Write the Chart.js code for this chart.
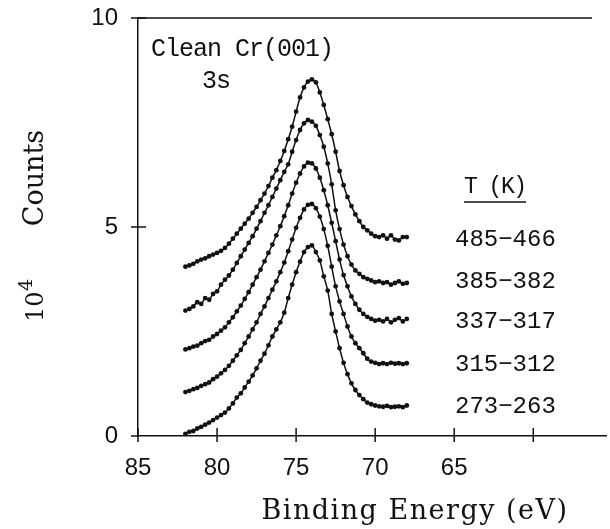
<!DOCTYPE html>
<html>
<head>
<meta charset="utf-8">
<script src="https://cdn.jsdelivr.net/npm/chart.js@4.4.1/dist/chart.umd.min.js"></script>
<style>
  html, body { margin: 0; padding: 0; background: #fff; }
  #wrap { width: 610px; height: 529px; }
</style>
</head>
<body>
<div id="wrap"><canvas id="xpsChart" width="610" height="529"></canvas></div>
<script>
// binding energy of each sampled point (eV)
const energies = [82, 81.75, 81.5, 81.25, 81, 80.75, 80.5, 80.25, 80, 79.75,
    79.5, 79.25, 79, 78.75, 78.5, 78.25, 78, 77.75, 77.5, 77.25,
    77, 76.75, 76.5, 76.25, 76, 75.75, 75.5, 75.25, 75, 74.75,
    74.5, 74.25, 74, 73.75, 73.5, 73.25, 73, 72.75, 72.5, 72.25,
    72, 71.75, 71.5, 71.25, 71, 70.75, 70.5, 70.25, 70, 69.75,
    69.5, 69.25, 69, 68.75, 68.5, 68.25, 68];

// counts (x 10^4), each spectrum already offset in the figure
const counts485 = [4.05, 4.08, 4.12, 4.18, 4.22, 4.25, 4.30, 4.34, 4.38, 4.43,
    4.50, 4.60, 4.72, 4.84, 4.96, 5.08, 5.20, 5.34, 5.48, 5.64,
    5.80, 5.98, 6.18, 6.36, 6.58, 6.82, 7.10, 7.40, 7.76, 8.10,
    8.34, 8.48, 8.53, 8.46, 8.22, 7.92, 7.58, 7.22, 6.80, 6.34,
    6.00, 5.72, 5.50, 5.30, 5.14, 5.00, 4.92, 4.84, 4.78, 4.76,
    4.80, 4.72, 4.80, 4.70, 4.68, 4.76, 4.76];
const counts385 = [3.00, 3.04, 3.10, 3.20, 3.16, 3.30, 3.26, 3.40, 3.46, 3.62,
    3.74, 3.84, 3.98, 4.14, 4.30, 4.46, 4.62, 4.78, 4.96, 5.14,
    5.34, 5.52, 5.72, 5.92, 6.12, 6.32, 6.50, 6.80, 7.08, 7.32,
    7.48, 7.56, 7.52, 7.42, 7.20, 6.92, 6.52, 6.02, 5.40, 4.95,
    4.58, 4.30, 4.10, 3.96, 3.88, 3.80, 3.76, 3.72, 3.68, 3.70,
    3.66, 3.68, 3.62, 3.66, 3.70, 3.64, 3.66];
const counts337 = [2.07, 2.10, 2.14, 2.16, 2.22, 2.27, 2.30, 2.38, 2.44, 2.52,
    2.60, 2.72, 2.84, 2.98, 3.12, 3.28, 3.44, 3.62, 3.80, 3.98,
    4.18, 4.38, 4.58, 4.80, 5.02, 5.26, 5.52, 5.80, 6.06, 6.28,
    6.45, 6.54, 6.52, 6.40, 6.18, 5.88, 5.52, 5.10, 4.66, 4.22,
    3.85, 3.58, 3.34, 3.16, 3.02, 2.92, 2.85, 2.80, 2.76, 2.78,
    2.74, 2.80, 2.72, 2.78, 2.82, 2.74, 2.80];
const counts315 = [1.05, 1.08, 1.12, 1.15, 1.20, 1.24, 1.28, 1.36, 1.42, 1.50,
    1.58, 1.68, 1.80, 1.93, 2.06, 2.22, 2.38, 2.55, 2.72, 2.92,
    3.10, 3.30, 3.50, 3.70, 3.92, 4.15, 4.42, 4.70, 4.98, 5.22,
    5.42, 5.53, 5.55, 5.45, 5.25, 4.95, 4.55, 4.05, 3.58, 3.22,
    2.92, 2.62, 2.38, 2.22, 2.10, 1.98, 1.85, 1.78, 1.75, 1.72,
    1.74, 1.72, 1.75, 1.73, 1.74, 1.72, 1.74];
const counts273 = [0.05, 0.10, 0.12, 0.18, 0.22, 0.27, 0.32, 0.38, 0.44, 0.50,
    0.56, 0.66, 0.78, 0.92, 1.02, 1.16, 1.30, 1.45, 1.62, 1.80,
    1.97, 2.17, 2.38, 2.55, 2.72, 2.95, 3.30, 3.62, 3.92, 4.17,
    4.40, 4.52, 4.56, 4.40, 4.20, 3.82, 3.48, 2.92, 2.50, 2.10,
    1.75, 1.48, 1.26, 1.10, 0.98, 0.88, 0.80, 0.76, 0.73, 0.71,
    0.70, 0.72, 0.69, 0.70, 0.71, 0.69, 0.73];

const seriesLabels = ['485\u2212466', '385\u2212382', '337\u2212317', '315\u2212312', '273\u2212263'];
const seriesCounts = [counts485, counts385, counts337, counts315, counts273];
// y position (in counts) of each temperature label
const labelLevels = [4.74, 3.73, 2.78, 1.75, 0.74];

const xTicks = [85, 80, 75, 70, 65, 60];
const xTickLabels = ['85', '80', '75', '70', '65', ''];
const yTicks = [0, 5, 10];

const ink = '#111';

// extra drawing: crossing ticks, top frame line, labels
const decorPlugin = {
    id: 'decor',
    afterDraw(chart) {
        const { ctx, chartArea } = chart;
        const xs = chart.scales.x;
        const ys = chart.scales.y;
        ctx.save();
        ctx.strokeStyle = ink;
        ctx.lineWidth = 1.5;

        // top frame line
        const topY = ys.getPixelForValue(10);
        ctx.beginPath();
        ctx.moveTo(chartArea.left, topY);
        ctx.lineTo(592, topY);
        ctx.stroke();

        // ticks crossing the axes
        xTicks.forEach(v => {
            const px = xs.getPixelForValue(v);
            ctx.beginPath();
            ctx.moveTo(px, chartArea.bottom - 8);
            ctx.lineTo(px, chartArea.bottom + 6);
            ctx.stroke();
        });
        yTicks.forEach(v => {
            const py = ys.getPixelForValue(v);
            ctx.beginPath();
            ctx.moveTo(chartArea.left - 7, py);
            ctx.lineTo(chartArea.left + (v === 0 ? 0 : 8), py);
            ctx.stroke();
        });

        ctx.fillStyle = ink;
        ctx.textBaseline = 'alphabetic';

        // sample label
        ctx.textAlign = 'left';
        ctx.font = '25px "Liberation Mono"';
        ctx.letterSpacing = '-1px';
        ctx.fillText('Clean Cr(001)', 151, 56);
        ctx.fillText('3s', 202, 88);

        // temperature header
        ctx.font = '23px "Liberation Mono"';
        ctx.letterSpacing = '-1.5px';
        ctx.fillText('T (K)', 464, 193);
        ctx.beginPath();
        ctx.lineWidth = 1.3;
        ctx.moveTo(464, 202);
        ctx.lineTo(526, 202);
        ctx.stroke();

        // temperature labels
        ctx.font = '24px "Liberation Mono"';
        ctx.letterSpacing = '0px';
        seriesLabels.forEach((lab, i) => {
            ctx.fillText(lab, 455, ys.getPixelForValue(labelLevels[i]) + 8);
        });

        // x axis title
        ctx.textAlign = 'center';
        ctx.font = '27px "DejaVu Serif"';
        ctx.letterSpacing = '1.5px';
        ctx.fillText('Binding Energy (eV)', 415, 519);

        // y axis title, rotated
        ctx.letterSpacing = '0px';
        ctx.save();
        ctx.translate(43, 178);
        ctx.rotate(-Math.PI / 2);
        ctx.font = '27px "DejaVu Serif"';
        ctx.textAlign = 'center';
        ctx.fillText('Counts', 0, 0);
        ctx.restore();

        ctx.save();
        ctx.translate(43, 322);
        ctx.rotate(-Math.PI / 2);
        ctx.textAlign = 'left';
        ctx.font = '24px "DejaVu Serif"';
        ctx.fillText('10', 0, 0);
        ctx.font = '19px "DejaVu Serif"';
        ctx.fillText('4', 31, -11);
        ctx.restore();

        ctx.restore();
    }
};

const datasets = seriesCounts.map((vals, i) => ({
    label: seriesLabels[i],
    data: energies.map((e, k) => ({ x: e, y: vals[k] })),
    borderColor: ink,
    backgroundColor: ink,
    borderWidth: 1.5,
    pointRadius: 2.4,
    pointBorderWidth: 0,
    tension: 0.3,
    fill: false
}));

const ctx = document.getElementById('xpsChart').getContext('2d');
new Chart(ctx, {
    type: 'line',
    data: { datasets: datasets },
    options: {
        responsive: false,
        animation: false,
        events: [],
        layout: { padding: { top: 18, left: 0, right: 0, bottom: 0 } },
        plugins: {
            legend: { display: false },
            tooltip: { enabled: false }
        },
        scales: {
            x: {
                type: 'linear',
                reverse: true,
                min: 55.4,
                max: 85,
                afterBuildTicks: scale => {
                    scale.ticks = xTicks.map(v => ({ value: v }));
                },
                afterFit: scale => {
                    scale.height = 93;
                    scale.paddingLeft = 0;
                    scale.paddingRight = 0;
                },
                grid: { drawOnChartArea: false, drawTicks: false },
                border: { display: true, color: ink, width: 1.5 },
                ticks: {
                    padding: 18,
                    color: ink,
                    font: { family: 'Liberation Sans', size: 24 },
                    autoSkip: false,
                    maxRotation: 0,
                    callback: (val) => xTickLabels[xTicks.indexOf(val)]
                }
            },
            y: {
                min: 0,
                max: 10,
                afterBuildTicks: scale => {
                    scale.ticks = yTicks.map(v => ({ value: v }));
                },
                afterFit: scale => {
                    scale.width = 138;
                    scale.paddingTop = 0;
                    scale.paddingBottom = 0;
                },
                grid: { drawOnChartArea: false, drawTicks: false },
                border: { display: true, color: ink, width: 1.5 },
                ticks: {
                    padding: 20,
                    color: ink,
                    font: { family: 'Liberation Sans', size: 24 }
                }
            }
        }
    },
    plugins: [decorPlugin]
});
</script>
</body>
</html>
